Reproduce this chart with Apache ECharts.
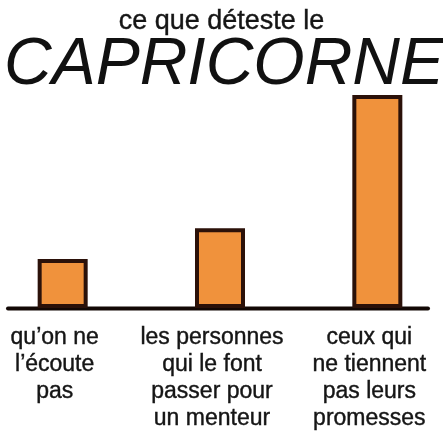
<!DOCTYPE html>
<html lang="fr" style="height: 100%">
<head>
    <meta charset="UTF-8">
    <title>ce que déteste le CAPRICORNE</title>
    <script src="https://cdn.jsdelivr.net/npm/echarts@6/dist/echarts.min.js"></script>
</head>
<body style="height: 100%; margin: 0; background: #fff">
<div id="container" style="width: 443px; height: 444px"></div>
</body>

<script type="text/javascript">
    var categories = [
        "qu\u2019on ne\nl\u2019écoute\npas",
        "les personnes\nqui le font\npasser pour\nun menteur",
        "ceux qui\nne tiennent\npas leurs\npromesses"
    ];
    var values = [2.3, 3.75, 10];

    var myChart = echarts.init(document.getElementById("container"));

    var option = {
        animation: false,
        title: [{
            text: "ce que déteste le",
            left: 'center',
            top: 3,
            textStyle: {
                fontFamily: 'Liberation Sans',
                fontSize: 27,
                lineHeight: 27,
                fontWeight: 'normal',
                color: '#151515',
                textBorderColor: '#151515',
                textBorderWidth: 0.4
            }
        }, {
            text: "CAPRICORNE",
            left: 219,
            textAlign: 'center',
            top: 28,
            textStyle: {
                fontFamily: 'Liberation Sans',
                fontSize: 66,
                lineHeight: 66,
                fontStyle: 'italic',
                fontWeight: 'normal',
                color: '#111'
            }
        }],
        grid: {
            left: -16,
            right: -13,
            top: 95,
            bottom: 136,
            outerBoundsMode: 'none'
        },
        xAxis: {
            type: 'category',
            data: categories,
            axisLine: {show: false},
            axisTick: {show: false},
            axisLabel: {
                margin: 16,
                interval: 0,
                fontFamily: 'Liberation Sans',
                fontSize: 23,
                lineHeight: 27,
                color: '#151515',
                textBorderColor: '#151515',
                textBorderWidth: 0.4,
                padding: [0, 16, 0, 0]
            }
        },
        yAxis: {
            type: 'value',
            min: 0,
            max: 10,
            show: false
        },
        series: [{
            type: 'bar',
            data: values,
            barWidth: 50,
            itemStyle: {
                color: '#f0923c',
                borderColor: '#2b1109',
                borderWidth: 4
            }
        }],
        // baseline drawn by hand, the axis itself spans the widened grid
        graphic: [{
            type: 'line',
            shape: {x1: 8, y1: 308.5, x2: 428, y2: 308.5},
            style: {stroke: '#120805', lineWidth: 4, lineCap: 'round'}
        }]
    };

    myChart.setOption(option);
</script>
</html>
